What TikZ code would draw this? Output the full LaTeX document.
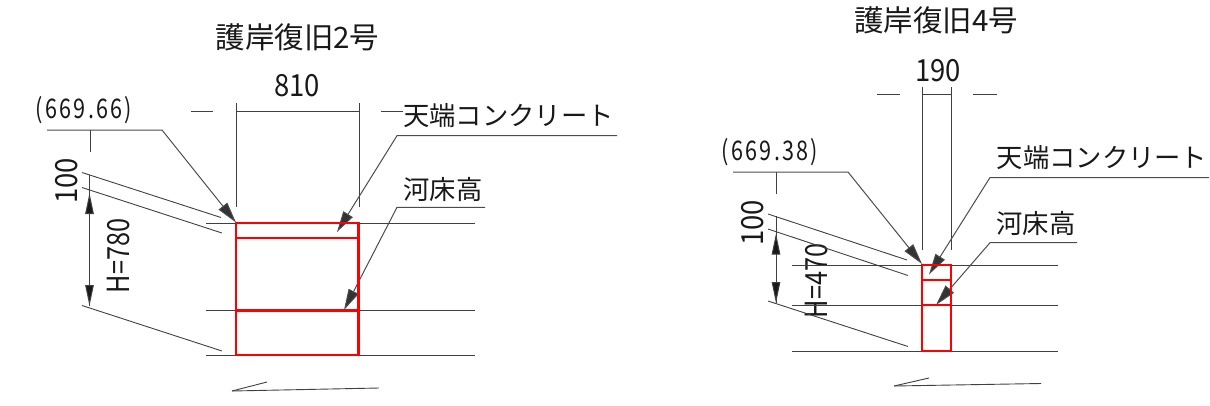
\documentclass[tikz,border=0pt]{standalone}
\usepackage{fontspec}
\usetikzlibrary{arrows.meta}
\newfontfamily\jpfont{Noto Sans CJK JP}
\newfontfamily\dimfont[FakeStretch=0.9]{Noto Sans CJK JP}
\newfontfamily\hfont[FakeStretch=0.83]{Noto Sans CJK JP}
\newfontfamily\levfont[FakeStretch=0.8,LetterSpace=8.5]{Noto Sans CJK JP}
\tikzset{
  titletext/.style={inner sep=0pt,font=\jpfont\fontsize{29.5}{30}\selectfont,text=black!90},
  jptext/.style={inner sep=0pt,font=\jpfont\fontsize{26.3}{27}\selectfont,text=black!90},
  dimtext/.style={inner sep=0pt,font=\dimfont\fontsize{30.5}{31}\selectfont,text=black!90},
  htext/.style={inner sep=0pt,font=\hfont\fontsize{30.5}{31}\selectfont,text=black!90},
  levtext/.style={inner sep=0pt,font=\levfont\fontsize{27}{27}\selectfont,text=black!90},
  thin line/.style={draw=black!75,line width=0.9pt},
  leader/.style={draw=black!70,line width=1pt,-{Triangle[length=21pt,width=11pt,fill=black!80]}},
  dimarrow/.style={draw=black!75,line width=1pt,-{Triangle[length=21pt,width=8.5pt,fill=black!90]}},
  redbox/.style={draw=red,line width=2.7pt,line join=miter},
}
\begin{document}
\begin{tikzpicture}[x=1pt,y=-1pt]
  \useasboundingbox (0,0) rectangle (1210,405);

  \node[titletext] (title2) at (297.5,37) {護岸復旧2号};
  \node[dimtext] (w2) at (297,86) {810};
  \node[levtext] (lev2) at (84,110) {(669.66)};
  \node[dimtext,rotate=90] (d2) at (67,181) {100};
  \node[htext,rotate=90] (h2) at (119,256) {H=780};
  \node[jptext] (top2) at (508.5,116) {天端コンクリート};
  \node[jptext] (bed2) at (443,189) {河床高};

  \begin{scope}[every path/.style={thin line}]
    \path (206,223) -- (475,223);
    \path (206,310.5) -- (475,310.5);
    \path (206,355) -- (475,355);
    \path (236,103) -- (236,207);
    \path (359,103) -- (359,207);
    \path (236,111) -- (359,111);
    \path (191,111) -- (213,111);
    \path (381,111) -- (403,111);
    \path (90,130) -- (90,152);
    \path (82,172.5) -- (221,217.5);
    \path (82,187.5) -- (222,233);
    \path (82,305.5) -- (222,351);
    \path (232,391) -- (379,388);
    \path (232,391) -- (267,382);
  \end{scope}

  \coordinate (lev2a) at (47,130);
  \coordinate (lev2b) at (162,130);
  \coordinate (lev2c) at (236,222.5);
  \coordinate (top2a) at (617,135.7);
  \coordinate (top2b) at (397,135.7);
  \coordinate (top2c) at (337,232);
  \coordinate (bed2a) at (485,207.3);
  \coordinate (bed2b) at (397,207.3);
  \coordinate (bed2c) at (344,310);
  \coordinate (d2a) at (89.5,240);
  \coordinate (d2b) at (89.5,193);
  \coordinate (d2c) at (89.5,175);
  \coordinate (d2d) at (89.5,306);

  \draw[thin line] (d2c) -- (d2d);
  \draw[leader] (lev2a) -- (lev2b) -- (lev2c);
  \draw[leader] (top2a) -- (top2b) -- (top2c);
  \draw[leader] (bed2a) -- (bed2b) -- (bed2c);
  \draw[dimarrow] (d2a) -- (d2b);
  \draw[dimarrow] (d2a) -- (d2d);

  \draw[redbox] (236,223) rectangle (358.5,355);
  \draw[redbox] (236,238) -- (358.5,238);
  \draw[redbox] (236,310.5) -- (358.5,310.5);

  \node[titletext] (title4) at (936,20) {護岸復旧4号};
  \node[dimtext] (w4) at (938,71) {190};
  \node[levtext] (lev4) at (770,152) {(669.38)};
  \node[dimtext,rotate=90] (d4) at (753,223) {100};
  \node[htext,rotate=90] (h4) at (817,281) {H=470};
  \node[jptext] (top4) at (1102,158) {天端コンクリート};
  \node[jptext] (bed4) at (1036,223) {河床高};

  \begin{scope}[every path/.style={thin line}]
    \path (792,265) -- (1058,265);
    \path (792,305) -- (1058,305);
    \path (792,351) -- (1058,351);
    \path (922,87) -- (922,250);
    \path (951,87) -- (951,250);
    \path (922,94) -- (951,94);
    \path (877,94) -- (900,94);
    \path (973,94) -- (997,94);
    \path (776,172) -- (776,194);
    \path (768,214) -- (907,260);
    \path (768,229) -- (908,275.5);
    \path (768,301) -- (908,346.5);
    \path (894,386) -- (1041,383.5);
    \path (894,386) -- (929,378);
  \end{scope}

  \coordinate (lev4a) at (733,172);
  \coordinate (lev4b) at (848,172);
  \coordinate (lev4c) at (922,264);
  \coordinate (top4a) at (1209,177.5);
  \coordinate (top4b) at (990,177.5);
  \coordinate (top4c) at (929,274.5);
  \coordinate (bed4a) at (1077,242.7);
  \coordinate (bed4b) at (990,242.7);
  \coordinate (bed4c) at (936,305);
  \coordinate (d4a) at (776,268);
  \coordinate (d4b) at (776,233.5);
  \coordinate (d4c) at (776,216);
  \coordinate (d4d) at (776,303);

  \draw[thin line] (d4c) -- (d4d);
  \draw[leader] (lev4a) -- (lev4b) -- (lev4c);
  \draw[leader] (top4a) -- (top4b) -- (top4c);
  \draw[leader] (bed4a) -- (bed4b) -- (bed4c);
  \draw[dimarrow] (d4a) -- (d4b);
  \draw[dimarrow] (d4a) -- (d4d);

  \draw[redbox] (922,265) rectangle (951,351);
  \draw[redbox] (922,280) -- (951,280);
  \draw[redbox] (922,305) -- (951,305);

\end{tikzpicture}
\end{document}
